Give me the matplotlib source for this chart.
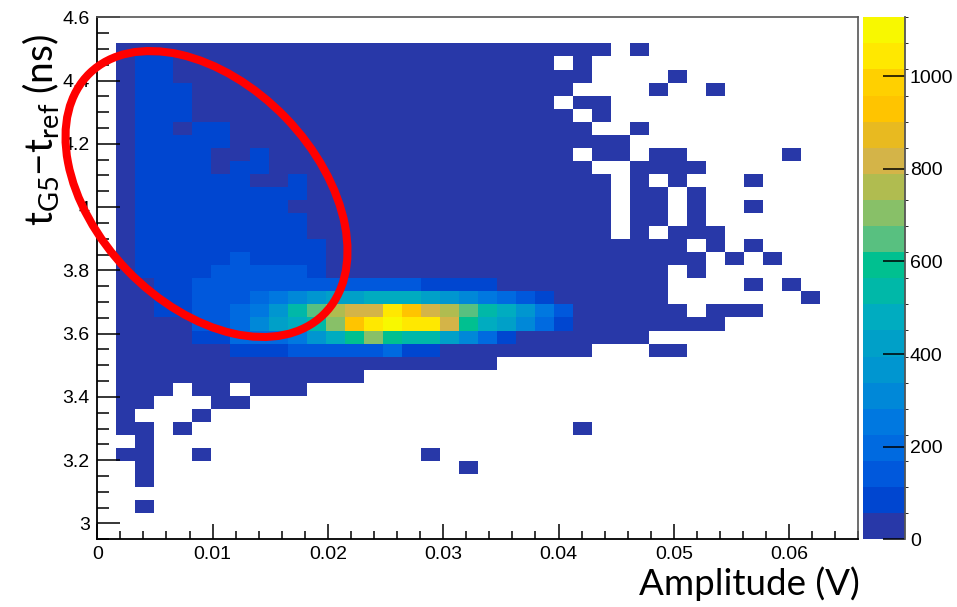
import numpy as np
import matplotlib
matplotlib.use("Agg")
import matplotlib.pyplot as plt
from matplotlib.colors import ListedColormap, BoundaryNorm
from matplotlib.patches import Ellipse
from matplotlib.lines import Line2D
from matplotlib.ticker import MultipleLocator, FormatStrFormatter

# ---- histogram binning -------------------------------------------------
amp_range = (0.0, 0.066)      # Amplitude (V)
dt_range = (2.95, 4.6)        # t_G5 - t_ref (ns)
n_amp_bins = 40
n_dt_bins = 40

# ---- colour palette: 20 contour steps, lowest first --------------------
palette = [
    "#2838a8", "#0046d0", "#0058dc", "#006ae0", "#0078e0",
    "#0088d8", "#0096d0", "#00a0c8", "#00acc0", "#00b8a8",
    "#00c090", "#58c080", "#88c068", "#b0bc50", "#d4b448",
    "#e8ba20", "#ffc400", "#ffd000", "#ffe800", "#f8f800",
]

# estimated bin content for each colour step ('.' = empty bin)
step_codes = ".123456789abcdefghijk"
step_content = [0, 30, 85, 140, 195, 255, 310, 365, 420, 480, 535,
                590, 645, 700, 760, 815, 870, 930, 985, 1040, 1127]

# bin contents: one string per time bin (top row first),
# one character per amplitude bin (left to right)
rows = [
    "........................................",
    "........................................",
    ".111111111" "1111111111" "1111111.1." "..........",
    ".122111111" "1111111111" "1111.1...." "..........",
    ".122111111" "1111111111" "111111...." "1.........",
    ".122211111" "1111111111" "11111....1" "..1.......",
    ".122211111" "1111111111" "1111.11..." "..........",
    ".122211111" "1111111111" "11111.1..." "..........",
    ".122122111" "1111111111" "111111..1." "..........",
    ".122222111" "1111111111" "11111111.." "..........",
    ".122221121" "1111111111" "11111.11.1" "1.....1...",
    ".122221221" "1111111111" "111111..11" "11........",
    ".122222211" "2111111111" "1111111.1." "1...1.....",
    ".122222222" "2111111111" "1111111.11" ".1........",
    ".122222222" "1111111111" "1111111.11" ".1..1.....",
    ".122222222" "2111111111" "1111111.11" ".1........",
    ".122222222" "2111111111" "1111111.1." "111.......",
    ".122222222" "2211111111" "1111111111" "1.1.1.....",
    ".122222322" "2211111111" "1111111111" "11.1.1....",
    ".122223333" "3211111111" "1111111111" ".1........",
    ".112233333" "3333333222" "2111111111" "....1.1...",
    ".112233345" "6788999876" "5432111111" ".......1..",
    ".112233457" "aceffjhfec" "a975311111" "1.111.....",
    ".111133468" "9adhjkjjfb" "9864211111" "111.......",
    ".111122444" "579bdbaa86" "421111111." "..........",
    ".111111222" "3333342211" "111111...1" "1.........",
    ".111111111" "1111111111" "1........." "..........",
    ".111111111" "1111......" ".........." "..........",
    ".111.11.11" "1........." ".........." "..........",
    ".11...11.." ".........." ".........." "..........",
    ".1...1...." ".........." ".........." "..........",
    ".11.1....." ".........." ".....1...." "..........",
    "..1......." ".........." ".........." "..........",
    ".11..1...." ".......1.." ".........." "..........",
    "..1......." ".........1" ".........." "..........",
    "..1......." ".........." ".........." "..........",
    "........................................",
    "..1......." ".........." ".........." "..........",
    "........................................",
    "........................................",
]

content_of = dict(zip(step_codes, step_content))
counts = np.array([[content_of[c] for c in r] for r in rows[::-1]], dtype=float)
counts = np.ma.masked_less_equal(counts, 0)

amp_edges = np.linspace(amp_range[0], amp_range[1], n_amp_bins + 1)
dt_edges = np.linspace(dt_range[0], dt_range[1], n_dt_bins + 1)

# ---- figure ------------------------------------------------------------
W, H = 957, 607
fig = plt.figure(figsize=(W / 100, H / 100), dpi=100)
fig.patch.set_facecolor("white")

ax = fig.add_axes([97.3 / W, (H - 539.3) / H, 761.0 / W, 522.0 / H])
cax = fig.add_axes([862.7 / W, (H - 539.3) / H, 42.3 / W, 522.0 / H])

cmap = ListedColormap(palette)
cmap.set_over(palette[-1])
zmax = counts.max()
levels = np.linspace(0, zmax, len(palette) + 1)
norm = BoundaryNorm(levels, cmap.N)

mesh = ax.pcolormesh(amp_edges, dt_edges, counts, cmap=cmap, norm=norm,
                     edgecolors="none", antialiased=False)

ax.set_xlim(amp_range)
ax.set_ylim(dt_range)

ax.xaxis.set_major_locator(MultipleLocator(0.01))
ax.xaxis.set_minor_locator(MultipleLocator(0.002))
ax.yaxis.set_major_locator(MultipleLocator(0.2))
ax.yaxis.set_minor_locator(MultipleLocator(0.05))
ax.xaxis.set_major_formatter(FormatStrFormatter("%g"))
ax.yaxis.set_major_formatter(FormatStrFormatter("%g"))

ax.tick_params(axis="x", which="major", direction="in", length=11, width=1.1,
               pad=5, top=False, labelsize=14)
ax.tick_params(axis="x", which="minor", direction="in", length=5.5, width=1.1,
               top=False)
ax.tick_params(axis="y", which="major", direction="in", length=16.8, width=1.1,
               pad=5.5, right=False, labelsize=14)
ax.tick_params(axis="y", which="minor", direction="in", length=8.6, width=1.1,
               right=False)
for lab in ax.get_xticklabels() + ax.get_yticklabels():
    lab.set_fontfamily("Liberation Sans")

for side in ("left", "bottom"):
    ax.spines[side].set_color("black")
    ax.spines[side].set_linewidth(1.3)
for side in ("top", "right"):
    ax.spines[side].set_color("#555555")
    ax.spines[side].set_linewidth(1.2)

# ---- colour scale ------------------------------------------------------
cb = fig.colorbar(mesh, cax=cax, ticks=[0, 200, 400, 600, 800, 1000],
                  spacing="proportional", extend="neither")
cb.outline.set_visible(False)
cax.tick_params(axis="y", direction="in", length=15.8, width=1.1, color="black",
                right=True, left=False, labelright=True, labelleft=False,
                pad=3.5, labelsize=14)
for lab in cax.get_yticklabels():
    lab.set_fontfamily("Liberation Sans")
cax.add_line(Line2D([1, 1], [0, 1], transform=cax.transAxes, color="#555555",
                    lw=1.3, clip_on=False))

# ---- axis titles -------------------------------------------------------
plt.rcParams["mathtext.fontset"] = "custom"
plt.rcParams["mathtext.rm"] = "Lato"
plt.rcParams["mathtext.it"] = "Lato:italic"
plt.rcParams["mathtext.bf"] = "Lato:bold"

fig.text(860 / W, (H - 595) / H, "Amplitude (V)", ha="right", va="baseline",
         fontsize=26.5, family="Lato", color="black")
fig.text(41 / W, (H - 226) / H, r"$\mathrm{t_{G5}}$" + "\u2212" + r"$\mathrm{t_{ref}}$ (ns)",
         rotation=90, ha="center", va="bottom", fontsize=28, family="Lato",
         color="black")

# ---- highlighted region -----------------------------------------------
fig.add_artist(Ellipse((2.065, (H - 194) / 100), width=3.36, height=2.2,
                       angle=-46, transform=fig.dpi_scale_trans,
                       fill=False, edgecolor="#ff0000", linewidth=5.8,
                       zorder=10))

fig.savefig("out.png", dpi=100)
